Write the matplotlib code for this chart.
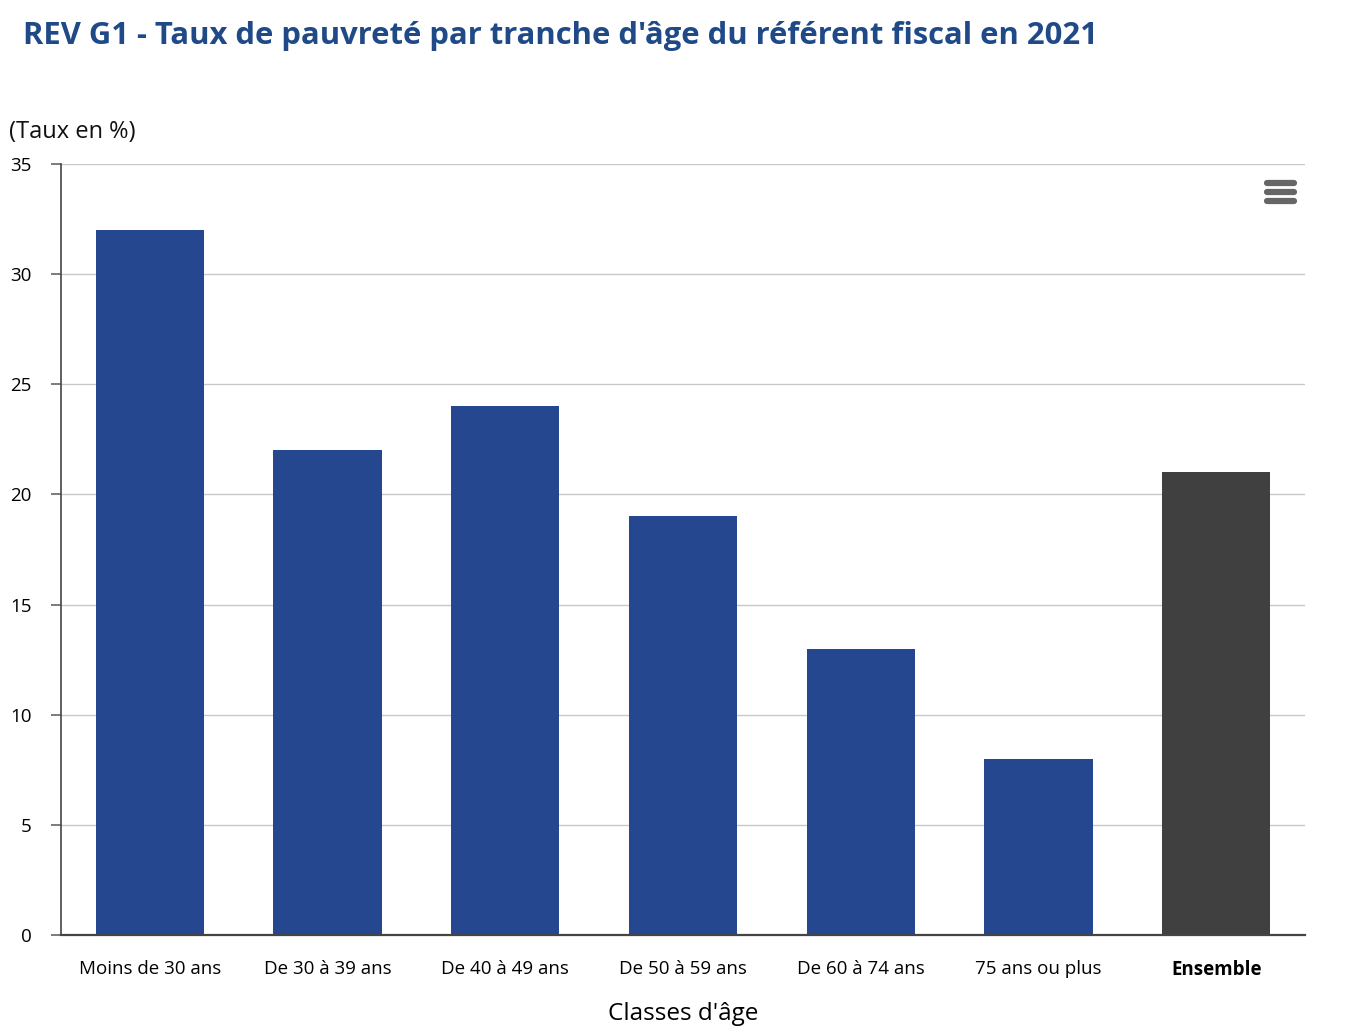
import matplotlib
matplotlib.use("Agg")
import matplotlib.pyplot as plt
from matplotlib.lines import Line2D

categories = ["Moins de 30 ans", "De 30 à 39 ans", "De 40 à 49 ans", "De 50 à 59 ans",
              "De 60 à 74 ans", "75 ans ou plus", "Ensemble"]
values = [32, 22, 24, 19, 13, 8, 21]
bar_colors = ["#25478f"] * 6 + ["#404040"]
yticks = [0, 5, 10, 15, 20, 25, 30, 35]

plt.rcParams['font.family'] = ['Open Sans', 'DejaVu Sans']

fig = plt.figure(figsize=(13.68, 10.32), dpi=100)
ax = fig.add_axes([61/1368, 1-935/1032, (1305-61)/1368, (935-164)/1032])

x = list(range(len(categories)))
ax.bar(x, values, width=0.61, color=bar_colors, zorder=3)
ax.set_xlim(-0.5, len(categories)-0.5)
ax.set_ylim(0, 35)
ax.set_yticks(yticks)
ax.set_yticklabels([str(t) for t in yticks], fontsize=13.5)
ax.set_xticks(x)
ax.set_xticklabels(categories, fontsize=13.5)
ax.get_xticklabels()[-1].set_fontweight('bold')
ax.tick_params(axis='x', length=0, pad=18)
ax.tick_params(axis='y', length=7, width=1.2, color='#666666', pad=14)
ax.grid(axis='y', color='#c8c8c8', linewidth=1, zorder=0)
for s in ['top', 'right']:
    ax.spines[s].set_visible(False)
ax.spines['left'].set_color('#444444')
ax.spines['left'].set_linewidth(1.2)
ax.spines['bottom'].set_color('#444444')
ax.spines['bottom'].set_linewidth(1.6)
ax.spines['left'].set_zorder(4)
ax.spines['bottom'].set_zorder(4)

ax.set_xlabel("Classes d'âge", fontsize=17.5, labelpad=16)

fig.text(23/1368, 1-36/1032, "REV G1 - Taux de pauvreté par tranche d'âge du référent fiscal en 2021",
         fontsize=22.3, fontweight='bold', color='#1f4a87', va='center', ha='left')
fig.text(9/1368, 1-132/1032, "(Taux en %)", fontsize=17, color='#111111', va='center', ha='left')

# menu icon
for yy in [183, 192, 201]:
    fig.add_artist(Line2D([1267/1368, 1294/1368], [1-yy/1032, 1-yy/1032],
                          color='#666666', linewidth=4.5, solid_capstyle='round'))

fig.savefig("out.png", dpi=100, facecolor='white')
